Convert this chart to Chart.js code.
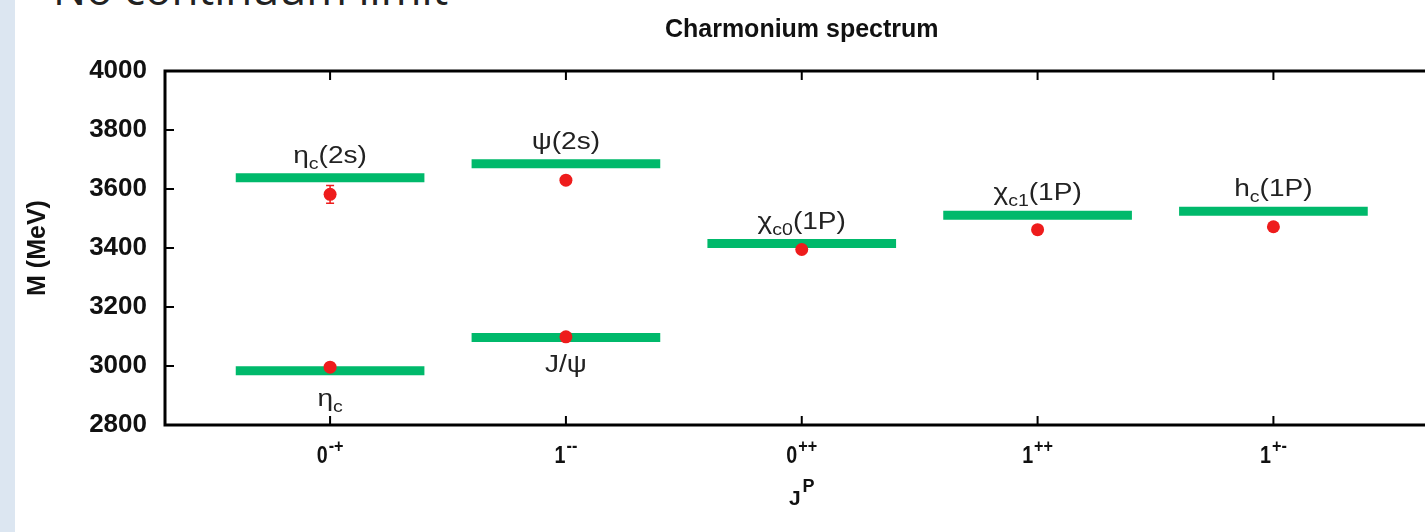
<!DOCTYPE html>
<html>
<head>
<meta charset="utf-8">
<script src="https://cdn.jsdelivr.net/npm/chart.js@4"></script>
<style>
  html, body { margin: 0; padding: 0; background: #fff; overflow: hidden; width: 1425px; height: 532px; }
  #strip { position: absolute; left: 0; top: 0; width: 15px; height: 532px; background: #dce6f1; }
  #slide-title { position: absolute; left: 53px; top: -34px; font: 44px/44px "Open Sans", sans-serif; color: #222; white-space: nowrap; }
  #wrap { position: absolute; left: 0; top: 0; width: 1445px; height: 532px; }
</style>
</head>
<body>
<div id="strip"></div>
<div id="slide-title">No continuum limit</div>
<div id="wrap"><canvas id="spectrum-chart" width="1445" height="532"></canvas></div>
<script>
// J^P channels along the x axis
const tickBase = ['0', '1', '0', '1', '1'];
const tickSup = ['-+', '--', '++', '++', '+-'];

// states: channel index, experimental level, lattice result
const stateChannel = [1, 1, 2, 2, 3, 4, 5];
const expMass = [2984, 3638, 3097, 3686, 3415, 3511, 3525];
const latMass = [2996, 3582, 3099, 3630, 3395, 3462, 3472];
const latErr = [4, 30, 4, 8, 6, 5, 5];

// state labels: main symbol, subscript, tail, placed below the level?
const labelMain = ['η', 'η', 'J/ψ', 'ψ', 'χ', 'χ', 'h'];
const labelSub = ['c', 'c', '', '', 'c0', 'c1', 'c'];
const labelTail = ['', '(2s)', '', '(2s)', '(1P)', '(1P)', '(1P)'];
const labelBelow = [true, false, true, false, false, false, false];

const yTicks = [2800, 3000, 3200, 3400, 3600, 3800, 4000];

const GREEN = '#00b96b';
const RED = '#ee1c1c';
const halfWidth = 0.4;
const FONT = '"Liberation Sans", Arial, sans-serif';

// level segments, separated by gaps
const levelPoints = [];
expMass.forEach(function(m, i) {
  levelPoints.push({ x: stateChannel[i] - halfWidth, y: m });
  levelPoints.push({ x: stateChannel[i] + halfWidth, y: m });
  levelPoints.push({ x: stateChannel[i] + halfWidth, y: null });
});
const latticePoints = latMass.map(function(m, i) { return { x: stateChannel[i], y: m }; });

const framePlugin = {
  id: 'frame',
  beforeDatasetsDraw(chart) {
    // error bars under the dots
    const ctx = chart.ctx, xs = chart.scales.x, ys = chart.scales.y;
    ctx.save();
    ctx.strokeStyle = RED;
    ctx.lineWidth = 1.5;
    latMass.forEach(function(m, i) {
      const px = xs.getPixelForValue(stateChannel[i]);
      const top = ys.getPixelForValue(m + latErr[i]);
      const bot = ys.getPixelForValue(m - latErr[i]);
      ctx.beginPath();
      ctx.moveTo(px, top); ctx.lineTo(px, bot);
      ctx.moveTo(px - 4, top); ctx.lineTo(px + 4, top);
      ctx.moveTo(px - 4, bot); ctx.lineTo(px + 4, bot);
      ctx.stroke();
    });
    ctx.restore();
  },
  afterDatasetsDraw(chart) {
    const ctx = chart.ctx, a = chart.chartArea;
    const xs = chart.scales.x, ys = chart.scales.y;
    ctx.save();
    // frame
    ctx.strokeStyle = '#000';
    ctx.lineWidth = 3;
    ctx.strokeRect(a.left, a.top, a.right - a.left, a.bottom - a.top);
    // inward ticks
    ctx.lineWidth = 2;
    ctx.beginPath();
    yTicks.forEach(function(v) {
      const py = ys.getPixelForValue(v);
      ctx.moveTo(a.left, py); ctx.lineTo(a.left + 9, py);
      ctx.moveTo(a.right, py); ctx.lineTo(a.right - 9, py);
    });
    tickBase.forEach(function(t, i) {
      const px = xs.getPixelForValue(i + 1);
      ctx.moveTo(px, a.bottom); ctx.lineTo(px, a.bottom - 9);
      ctx.moveTo(px, a.top); ctx.lineTo(px, a.top + 9);
    });
    ctx.stroke();

    // x tick labels with superscripts
    ctx.fillStyle = '#111';
    ctx.textBaseline = 'alphabetic';
    ctx.textAlign = 'left';
    const baseFont = 'bold 24px ' + FONT;
    const supFont = 'bold 18px ' + FONT;
    tickBase.forEach(function(t, i) {
      const px = xs.getPixelForValue(i + 1);
      ctx.font = baseFont;
      const wb = ctx.measureText(t).width * 0.82;
      ctx.font = supFont;
      const ws = ctx.measureText(tickSup[i]).width * 0.9;
      const x0 = px - (wb + ws + 1) / 2;
      ctx.save();
      ctx.translate(x0, a.bottom + 38);
      ctx.scale(0.82, 1);
      ctx.font = baseFont;
      ctx.fillText(t, 0, 0);
      ctx.restore();
      ctx.save();
      ctx.translate(x0 + wb + 1, a.bottom + 27);
      ctx.scale(0.9, 1);
      ctx.font = supFont;
      ctx.fillText(tickSup[i], 0, 0);
      ctx.restore();
    });

    // x axis title J^P
    const cx = (a.left + a.right) / 2;
    ctx.font = 'bold 21px ' + FONT;
    const wj = ctx.measureText('J').width;
    ctx.font = 'bold 18px ' + FONT;
    const wp = ctx.measureText('P').width;
    const jx = cx - (wj + wp + 2) / 2;
    ctx.font = 'bold 21px ' + FONT;
    ctx.fillText('J', jx, a.bottom + 80);
    ctx.font = 'bold 18px ' + FONT;
    ctx.fillText('P', jx + wj + 2, a.bottom + 67);

    // state labels, slightly stretched as in the original figure
    ctx.fillStyle = '#222';
    const stretch = 1.22;
    const mainFont = '23px ' + FONT;
    const subFont = '16px ' + FONT;
    expMass.forEach(function(m, i) {
      const px = xs.getPixelForValue(stateChannel[i]);
      const py = ys.getPixelForValue(m) + (labelBelow[i] ? 35 : -15);
      ctx.font = mainFont;
      const w1 = ctx.measureText(labelMain[i]).width;
      const w3 = ctx.measureText(labelTail[i]).width;
      ctx.font = subFont;
      const w2 = ctx.measureText(labelSub[i]).width;
      ctx.save();
      ctx.translate(px - stretch * (w1 + w2 + w3) / 2, py);
      ctx.scale(stretch, 1);
      let x = 0;
      ctx.font = mainFont;
      ctx.fillText(labelMain[i], x, 0);
      x += w1;
      ctx.font = subFont;
      ctx.fillText(labelSub[i], x, 6);
      x += w2;
      ctx.font = mainFont;
      ctx.fillText(labelTail[i], x, 0);
      ctx.restore();
    });
    ctx.restore();
  }
};

const ctx = document.getElementById('spectrum-chart').getContext('2d');
const spectrumChart = new Chart(ctx, {
  type: 'scatter',
  data: {
    datasets: [
      {
        label: 'Lattice',
        data: latticePoints,
        backgroundColor: RED,
        borderWidth: 0,
        pointRadius: 6.5,
        pointHoverRadius: 6.5
      },
      {
        label: 'Experiment',
        data: levelPoints,
        showLine: true,
        spanGaps: false,
        borderColor: GREEN,
        borderWidth: 9,
        borderCapStyle: 'butt',
        pointRadius: 0,
        pointHoverRadius: 0
      }
    ]
  },
  plugins: [framePlugin],
  options: {
    responsive: false,
    animation: false,
    layout: { padding: { left: 0, right: 6, top: 0, bottom: 0 } },
    plugins: {
      legend: { display: false },
      tooltip: { enabled: false },
      title: {
        display: true,
        fullSize: false,
        text: 'Charmonium spectrum',
        color: '#111',
        font: { family: FONT, size: 25, weight: 'bold' },
        padding: { top: 15, bottom: 26 }
      }
    },
    scales: {
      x: {
        type: 'linear',
        min: 0.3,
        max: 5.7,
        grid: { display: false },
        border: { display: false },
        ticks: { display: false },
        afterFit: function(scale) { scale.height = 107; }
      },
      y: {
        type: 'linear',
        min: 2800,
        max: 4000,
        grid: { display: false, drawTicks: false },
        border: { display: false },
        ticks: {
          stepSize: 200,
          padding: 18,
          color: '#111',
          font: { family: FONT, size: 26, weight: 'bold' },
          callback: function(v) { return String(v); }
        },
        title: {
          display: true,
          text: 'M (MeV)',
          color: '#111',
          font: { family: FONT, size: 25, weight: 'bold' },
          padding: { top: 23, bottom: 0 }
        },
        afterFit: function(scale) { scale.width = 165; }
      }
    }
  }
});
</script>
</body>
</html>
